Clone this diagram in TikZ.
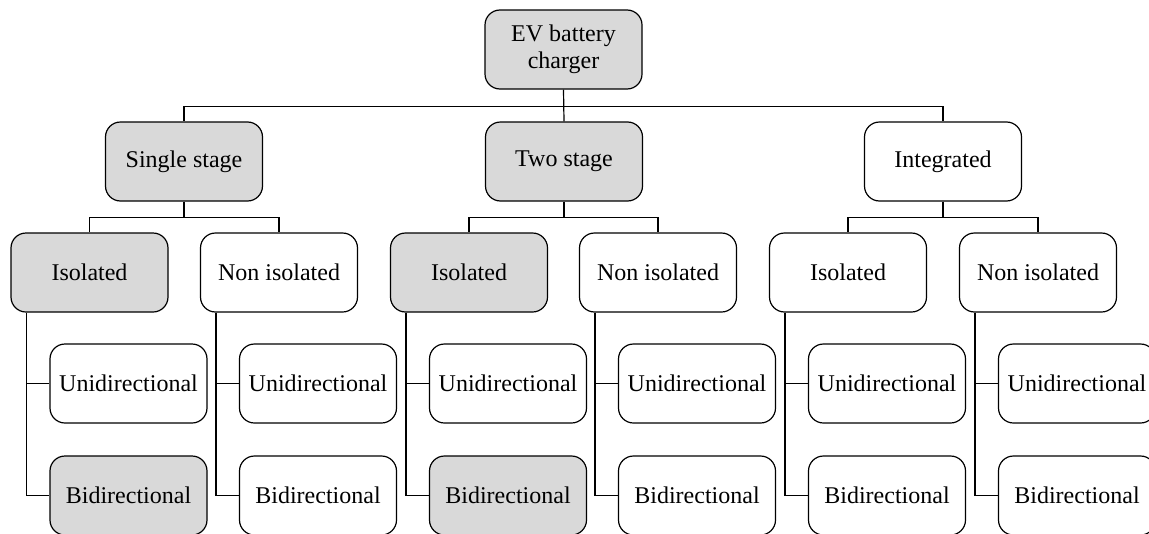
\documentclass[tikz,border=0pt]{standalone}
\usepackage{fontspec}
\setmainfont{Liberation Serif}
\begin{document}
\begin{tikzpicture}[x=1pt,y=-1pt,
  box/.style={draw, line width=1.2pt, rounded corners=15pt, minimum width=157pt, minimum height=79pt, inner sep=0pt, align=center, font=\fontsize{24}{27}\selectfont, fill=white},
  grey/.style={fill=black!15},
  link/.style={line width=1.2pt}]
\useasboundingbox (0,0) rectangle (1149,533);
\clip (0,0) rectangle (1149,533);
\node[box,grey] (top) at (563.5,49.5) {EV battery\\charger};
\node[box,grey] (ss) at (184,161.5) {Single stage};
\node[box,grey] (ts) at (564,161.5) {Two stage};
\node[box] (ig) at (943,161.5) {Integrated};
\draw[link] (top.south) -- (ts.north);
\draw[link] ([yshift=-17pt]top.south) -| (ss.north);
\draw[link] ([yshift=-17pt]top.south) -| (ig.north);
% level 3
\node[box,grey] (i1) at (89.5,272.5) {Isolated};
\node[box] (n1) at (279,272.5) {Non isolated};
\node[box,grey] (i2) at (469,272.5) {Isolated};
\node[box] (n2) at (658,272.5) {Non isolated};
\node[box] (i3) at (848,272.5) {Isolated};
\node[box] (n3) at (1038,272.5) {Non isolated};
\foreach \p/\a/\b in {ss/i1/n1, ts/i2/n2, ig/i3/n3}{
  \draw[link] (\p.south) -- ++(0,16) -| (\a.north);
  \draw[link] (\p.south) -- ++(0,16) -| (\b.north);
}
% level 4
\node[box] (u1) at (128.5,383.5) {Unidirectional};
\node[box,grey] (b1) at (128.5,495.5) {Bidirectional};
\node[box] (u2) at (318,383.5) {Unidirectional};
\node[box] (b2) at (318,495.5) {Bidirectional};
\node[box] (u3) at (508,383.5) {Unidirectional};
\node[box,grey] (b3) at (508,495.5) {Bidirectional};
\node[box] (u4) at (697,383.5) {Unidirectional};
\node[box] (b4) at (697,495.5) {Bidirectional};
\node[box] (u5) at (887,383.5) {Unidirectional};
\node[box] (b5) at (887,495.5) {Bidirectional};
\node[box] (u6) at (1077,383.5) {Unidirectional};
\node[box] (b6) at (1077,495.5) {Bidirectional};
\foreach \a/\u/\b in {i1/u1/b1, n1/u2/b2, i2/u3/b3, n2/u4/b4, i3/u5/b5, n3/u6/b6}{
  \draw[link] ([xshift=16pt]\a.south west) |- (\u.west);
  \draw[link] ([xshift=16pt]\a.south west) |- (\b.west);
}
\end{tikzpicture}
\end{document}
